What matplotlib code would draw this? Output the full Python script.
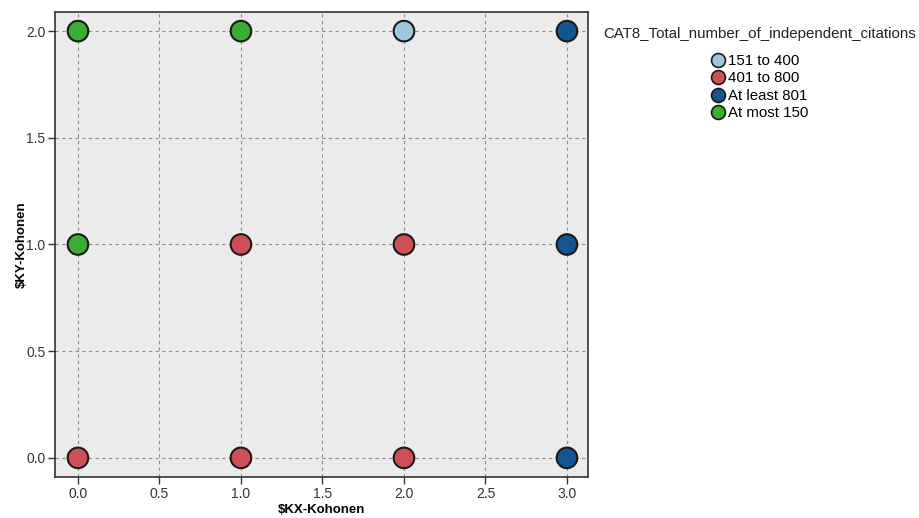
import matplotlib
matplotlib.use("Agg")
import matplotlib.pyplot as plt
from matplotlib.lines import Line2D

plt.rcParams["font.family"] = ["Liberation Sans", "DejaVu Sans"]

# Kohonen grid positions and category of each node
kx = [0, 1, 2, 3, 0, 1, 2, 3, 0, 1, 2, 3]
ky = [2, 2, 2, 2, 1, 1, 1, 1, 0, 0, 0, 0]
cat = ["At most 150", "At most 150", "151 to 400", "At least 801",
       "At most 150", "401 to 800", "401 to 800", "At least 801",
       "401 to 800", "401 to 800", "401 to 800", "At least 801"]

categories = ["151 to 400", "401 to 800", "At least 801", "At most 150"]
colors = {"151 to 400": "#9cc7df", "401 to 800": "#cf4f57",
          "At least 801": "#14548f", "At most 150": "#3aae32"}

fig = plt.figure(figsize=(9.19, 5.18), dpi=100)
ax = fig.add_axes([0.060, 0.079, 0.580, 0.898])
ax.set_facecolor("#ebebeb")

ax.scatter(kx, ky, c=[colors[c] for c in cat], s=220, edgecolors="#1a1a1a",
           linewidths=1.5, zorder=3)

ax.set_xlim(-0.14, 3.13)
ax.set_ylim(-0.09, 2.09)
ax.set_xticks([0, 0.5, 1, 1.5, 2, 2.5, 3])
ax.set_yticks([0, 0.5, 1, 1.5, 2])
ax.xaxis.set_major_formatter(matplotlib.ticker.FormatStrFormatter("%.1f"))
ax.yaxis.set_major_formatter(matplotlib.ticker.FormatStrFormatter("%.1f"))
ax.grid(True, color="#8c8c8c", ls=(0, (3, 3)), lw=0.8, zorder=1)
ax.tick_params(direction="out", length=5, width=1, labelsize=10, colors="#333333",
               pad=2)
for sp in ax.spines.values():
    sp.set_color("#333333")
    sp.set_linewidth(1.2)

ax.set_xlabel(r"\$KX-Kohonen", fontsize=9.5, fontweight="bold", labelpad=2)
ax.set_ylabel(r"\$KY-Kohonen", fontsize=9.5, fontweight="bold", labelpad=-1)

# legend
fig.text(0.656, 0.934, "CAT8_Total_number_of_independent_citations",
         fontsize=10.8, color="#222222", va="center")
handles = [Line2D([], [], marker="o", ls="none", markersize=10,
                  markerfacecolor=colors[c], markeredgecolor="#1a1a1a",
                  markeredgewidth=1.2) for c in categories]
fig.legend(handles, categories, loc="upper left", bbox_to_anchor=(0.767, 0.907),
           frameon=False, fontsize=10.8, handletextpad=0.15, labelspacing=0.22,
           borderaxespad=0, handlelength=1.0)

fig.savefig("out.png", dpi=100, facecolor="white")
